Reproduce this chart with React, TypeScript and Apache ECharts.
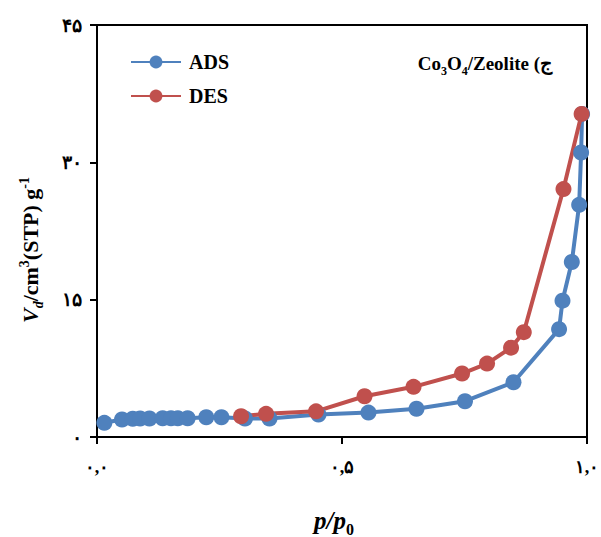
import React, { useEffect, useRef } from "react";
import * as echarts from "echarts";

const adsP = [0.015, 0.051, 0.073, 0.088, 0.107, 0.134, 0.151, 0.165, 0.185, 0.223, 0.254, 0.302, 0.352, 0.452, 0.554, 0.652, 0.751, 0.850, 0.943, 0.950, 0.969, 0.984, 0.988, 0.990];
const adsV = [1.55, 1.91, 1.99, 2.02, 2.02, 2.05, 2.05, 2.05, 2.05, 2.16, 2.16, 2.02, 2.02, 2.45, 2.67, 3.08, 3.91, 5.98, 11.78, 14.89, 19.11, 25.36, 31.07, 35.29];
const desP = [0.989, 0.952, 0.871, 0.845, 0.796, 0.745, 0.646, 0.546, 0.447, 0.345, 0.294];
const desV = [35.29, 27.08, 11.45, 9.76, 8.02, 6.93, 5.48, 4.45, 2.80, 2.53, 2.27];
const xTickLabels: Record<string, string> = { "0": "۰,۰", "0.5": "۰,۵", "1": "۱,۰" };
const yTickLabels: Record<string, string> = { "0": "۰", "15": "۱۵", "30": "۳۰", "45": "۴۵" };

const BLUE = "#4F81BD";
const RED = "#C0504D";
const SERIF = "'Liberation Serif', 'DejaVu Serif', serif";

export default function App() {
  const ref = useRef<HTMLDivElement>(null);
  useEffect(() => {
    const chart = echarts.init(ref.current!, undefined, { renderer: "svg" });
    const axisCommon = {
      axisLine: { show: true, lineStyle: { color: "#000", width: 2 } },
      axisTick: { show: true, inside: false, length: 7, lineStyle: { color: "#000", width: 2 } },
      splitLine: { show: false },
    };
    chart.setOption({
      animation: false,
      backgroundColor: "#fff",
      grid: {
        left: 97, top: 25, width: 490, height: 412,
        outerBoundsMode: "none", containLabel: false,
        show: true, borderColor: "#000", borderWidth: 2, backgroundColor: "transparent",
      },
      title: {
        text: "{a|Co}{s|3}{a|O}{s|4}{a|/Zeolite (ج}",
        right: 49,
        top: 54,
        padding: 0,
        textStyle: {
          rich: {
            a: { fontFamily: SERIF, fontWeight: "bold", fontSize: 19, color: "#000", verticalAlign: "bottom" },
            s: { fontFamily: SERIF, fontWeight: "bold", fontSize: 12, color: "#000", verticalAlign: "bottom", padding: [0, 0, -4, 0] },
          },
        },
      },
      legend: {
        orient: "vertical",
        left: 130,
        top: 52,
        padding: 0,
        itemWidth: 50,
        itemHeight: 16,
        itemGap: 14,
        data: ["ADS", "DES"],
        textStyle: { fontFamily: SERIF, fontWeight: "bold", fontSize: 20, color: "#000", padding: [0, 0, 0, 3] },
      },
      graphic: [
        {
          type: "text",
          x: 29,
          y: 250,
          rotation: Math.PI / 2,
          style: {
            text: "{i|V}{d|d}{b|/cm}{p|3}{b|(STP) g}{p|-1}",
            align: "center",
            verticalAlign: "middle",
            rich: {
              i: { fontFamily: SERIF, fontWeight: "bold", fontStyle: "italic", fontSize: 22, fill: "#000", verticalAlign: "bottom" },
              d: { fontFamily: SERIF, fontWeight: "bold", fontStyle: "italic", fontSize: 14, fill: "#000", verticalAlign: "bottom", padding: [0, 0, -4, 0] },
              b: { fontFamily: SERIF, fontWeight: "bold", fontSize: 22, fill: "#000", verticalAlign: "bottom" },
              p: { fontFamily: SERIF, fontWeight: "bold", fontSize: 14, fill: "#000", verticalAlign: "bottom", padding: [0, 0, 10, 0] },
            },
          },
        },
        {
          type: "text",
          x: 334,
          y: 520,
          style: {
            text: "{i|p}{i|/}{i|p}{s|0}",
            align: "center",
            verticalAlign: "middle",
            rich: {
              i: { fontFamily: SERIF, fontWeight: "bold", fontStyle: "italic", fontSize: 25, fill: "#000", verticalAlign: "bottom" },
              s: { fontFamily: SERIF, fontWeight: "bold", fontSize: 16, fill: "#000", verticalAlign: "bottom", padding: [0, 0, -5, 0] },
            },
          },
        },
      ],
      xAxis: {
        type: "value",
        min: 0,
        max: 1,
        interval: 0.5,
        ...axisCommon,
        axisLabel: {
          margin: 21,
          fontFamily: SERIF,
          fontWeight: "bold",
          fontSize: 18,
          color: "#000",
          formatter: (v: number) => xTickLabels[String(v)] ?? "",
        },
      },
      yAxis: {
        type: "value",
        min: 0,
        max: 45,
        interval: 15,
        ...axisCommon,
        axisLabel: {
          margin: 15,
          fontFamily: SERIF,
          fontWeight: "bold",
          fontSize: 19,
          color: "#000",
          formatter: (v: number) => yTickLabels[String(v)] ?? "",
        },
      },
      series: [
        {
          name: "ADS",
          type: "line",
          data: adsP.map((p, i) => [p, adsV[i]]),
          symbol: "circle",
          symbolSize: 16,
          itemStyle: { color: BLUE },
          lineStyle: { color: BLUE, width: 4 },
        },
        {
          name: "DES",
          type: "line",
          data: desP.map((p, i) => [p, desV[i]]),
          symbol: "circle",
          symbolSize: 16,
          itemStyle: { color: RED },
          lineStyle: { color: RED, width: 4 },
        },
      ],
    });
    return () => chart.dispose();
  }, []);
  return <div ref={ref} style={{ position: "fixed", left: 0, top: 0, width: 601, height: 537, background: "#fff" }} />;
}
